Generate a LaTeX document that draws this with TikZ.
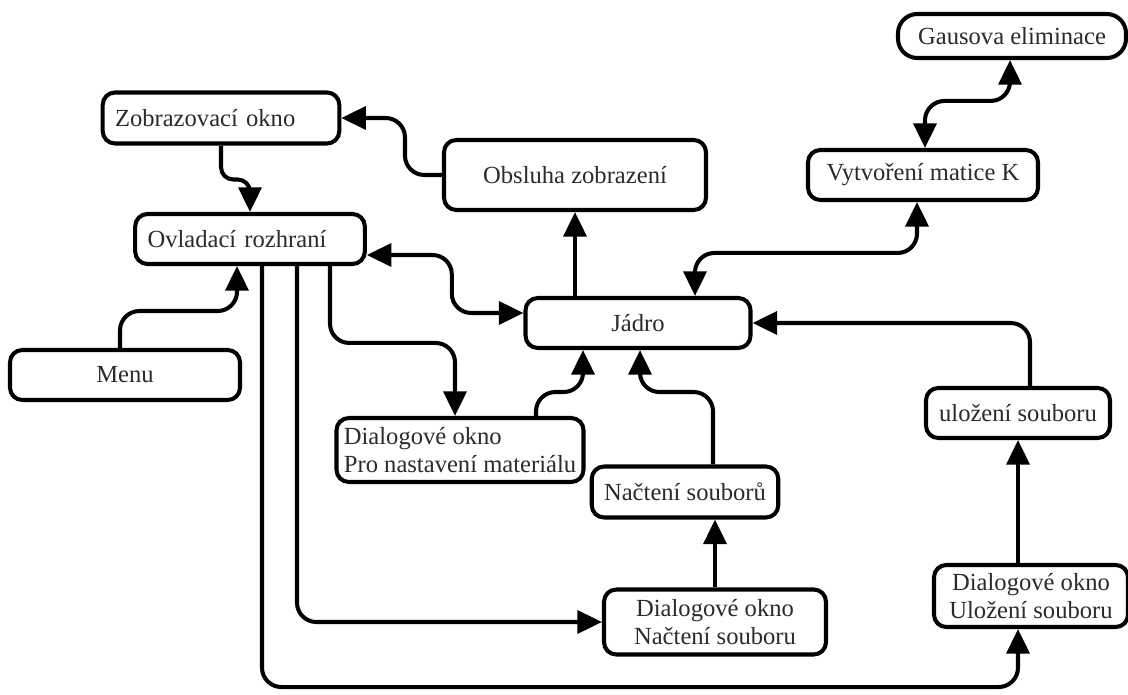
\documentclass[tikz,border=0pt]{standalone}
\usepackage{fontspec}
\setmainfont{Liberation Serif}
\usepackage{xcolor}
\usepackage{tikz}
\usetikzlibrary{arrows.meta,positioning,calc}

\definecolor{textgray}{HTML}{2B2B2B}
\tikzset{
  blok/.style={draw=black, line width=2.3pt, rounded corners=7pt, fill=white,
    text=textgray, font=\fontsize{14}{15.5}\selectfont, inner xsep=7pt, inner ysep=0pt},
  pfeil/.style={line width=2.3pt, rounded corners=11pt, -{Triangle[length=14pt,width=13pt]}},
  pfeil2/.style={line width=2.3pt, rounded corners=11pt, {Triangle[length=14pt,width=13pt]}-{Triangle[length=14pt,width=13pt]}}
}

\begin{document}
\begin{tikzpicture}[x=0.02cm, y=-0.02cm]
\useasboundingbox (0,0) rectangle (1128,695);

% boxes
\node[blok, rounded corners=11pt, minimum width=228*0.02cm, minimum height=44*0.02cm] (gaus) at (1012,36) {Gausova eliminace};
\node[blok, minimum width=232*0.02cm, minimum height=51*0.02cm, text width=212*0.02cm, align=left] (zobr) at (221,118) {Zobrazovací okno};
\node[blok, minimum width=262*0.02cm, minimum height=70*0.02cm] (obsl) at (575,175) {Obsluha zobrazení};
\node[blok, minimum width=230*0.02cm, minimum height=50*0.02cm] (vytv) at (923,175) {Vytvoření matice K};
\node[blok, minimum width=225*0.02cm, minimum height=50*0.02cm, text width=205*0.02cm, align=left] (ovl) at (250,239) {Ovladací rozhraní};
\node[blok, minimum width=230*0.02cm, minimum height=50*0.02cm] (menu) at (125,375) {Menu};
\node[blok, minimum width=225*0.02cm, minimum height=50*0.02cm] (jadro) at (638,323) {Jádro};
\node[blok, minimum width=184*0.02cm, minimum height=50*0.02cm] (ulo) at (1018,413) {uložení souboru};
\node[blok, inner xsep=4pt, minimum width=247*0.02cm, minimum height=64*0.02cm, align=left] (dmat) at (460,450) {Dialogové okno\\Pro nastavení materiálu};
\node[blok, minimum width=174*0.02cm, minimum height=51*0.02cm] (nact) at (685,492) {Načtení souborů};
\node[blok, minimum width=222*0.02cm, minimum height=65*0.02cm, align=center] (dnact) at (715,622) {Dialogové okno\\Načtení souboru};
\node[blok, minimum width=194*0.02cm, minimum height=62*0.02cm, align=center] (dulo) at (1031,596) {Dialogové okno\\Uložení souboru};

% connectors
\draw[pfeil, rounded corners=7pt] (zobr.south) -- ++(0,34) -| (ovl.north);
\draw[pfeil] (obsl.west) -- ++(-37,0) |- (zobr.east);
\draw[pfeil] (obsl.south |- jadro.north) -- (obsl.south);
\draw[pfeil2] ($(ovl.east)+(0,16)$) -- ++(85,0) |- ($(jadro.west)+(0,-10)$);
\draw[pfeil] ($(menu.north)+(-5,0)$) |- ($(ovl.south)+(-13,45)$) -- ($(ovl.south)+(-13,0)$);
\draw[pfeil] ($(ovl.south)+(80,0)$) |- ($(dmat.north)+(-5,-73)$) -- ($(dmat.north)+(-5,0)$);
\draw[pfeil] ($(dmat.north)+(76,0)$) |- ($(jadro.south)+(-55,42)$) -- ($(jadro.south)+(-55,0)$);
\draw[pfeil] ($(nact.north)+(28,0)$) |- ($(jadro.south)+(2,42)$) -- ($(jadro.south)+(2,0)$);
\draw[pfeil2] ($(vytv.south)+(-6,0)$) |- ($(jadro.north)+(57,-43)$) -- ($(jadro.north)+(57,0)$);
\draw[pfeil2] ($(gaus.south)+(-2,0)$) |- ($(vytv.north)+(2,-47)$) -- ($(vytv.north)+(2,0)$);
\draw[pfeil] ($(ovl.south)+(47,0)$) |- (dnact.west);
\draw[pfeil] ($(ovl.south)+(12,0)$) |- ($(dulo.south)+(-13,58)$) -- ($(dulo.south)+(-13,0)$);
\draw[pfeil] (dnact.north) -- (dnact.north |- nact.south);
\draw[pfeil] ($(dulo.north)+(-13,0)$) -- (ulo.south);
\draw[pfeil] ($(ulo.north)+(12,0)$) |- (jadro.east);
\end{tikzpicture}
\end{document}
